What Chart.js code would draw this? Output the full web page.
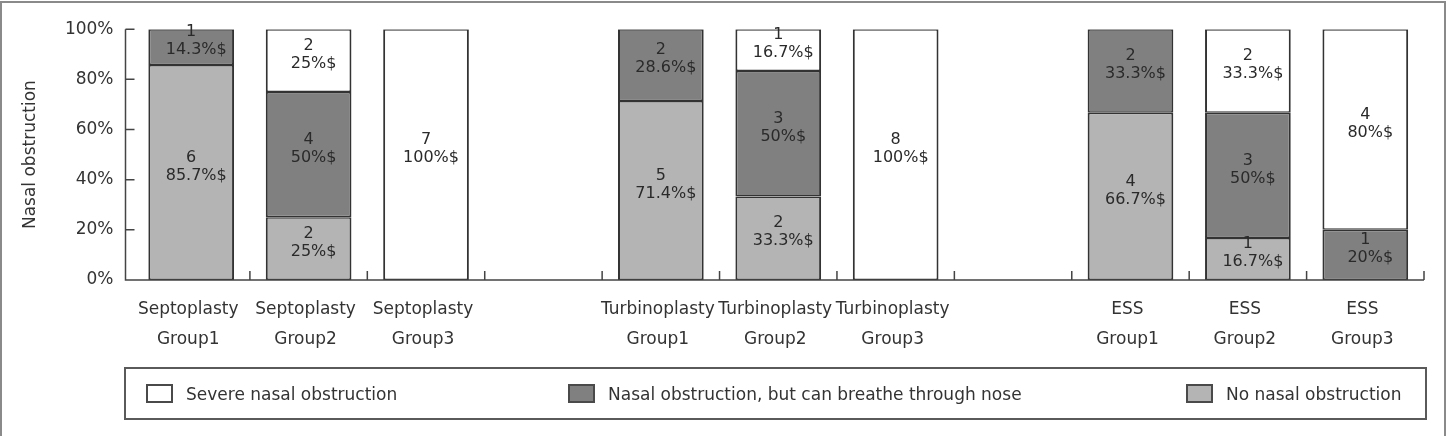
<!DOCTYPE html>
<html>
<head>
<meta charset="utf-8">
<script src="https://cdn.jsdelivr.net/npm/chart.js@4.4.1/dist/chart.umd.min.js"></script>
<style>
  body { margin: 0; background: #fff; }
  #wrap { position: relative; width: 1447px; height: 436px; overflow: hidden; }
  #frame { position: absolute; left: 0; top: 1px; width: 1442px; height: 500px; border: 2px solid #8a8a8a; pointer-events: none; }
  #legend { position: absolute; left: 124px; top: 367px; width: 1299px; height: 49px; border: 2px solid #5a5a5a;
            font-family: "DejaVu Sans", sans-serif; font-size: 17px; color: #333; }
  .item { position: absolute; top: 0; height: 49px; display: flex; align-items: center; }
  .sw { width: 23px; height: 15px; border: 2px solid #4a4a4a; margin-right: 13px; }
</style>
</head>
<body>
<div id="wrap">
  <canvas id="c" width="1447" height="436"></canvas>
  <div id="legend"></div>
  <div id="frame"></div>
</div>
<script>
// 카테고리 (빈 칸은 그룹 사이 간격)
var categories = [
  ["Septoplasty", "Group1"], ["Septoplasty", "Group2"], ["Septoplasty", "Group3"], "",
  ["Turbinoplasty", "Group1"], ["Turbinoplasty", "Group2"], ["Turbinoplasty", "Group3"], "",
  ["ESS", "Group1"], ["ESS", "Group2"], ["ESS", "Group3"]
];

// 비율(%) 값
var noObstPct  = [85.7, 25, null, null, 71.4, 33.3, null, null, 66.7, 16.7, null];
var midPct     = [14.3, 50, null, null, 28.6, 50, null, null, 33.3, 50, 20];
var severePct  = [null, 25, 100, null, null, 16.7, 100, null, null, 33.3, 80];

// 인원 수
var noObstN  = [6, 2, null, null, 5, 2, null, null, 4, 1, null];
var midN     = [1, 4, null, null, 2, 3, null, null, 2, 3, 1];
var severeN  = [null, 2, 7, null, null, 1, 8, null, null, 2, 4];

var yTicks = [0, 20, 40, 60, 80, 100];

var seriesNames = ["Severe nasal obstruction", "Nasal obstruction, but can breathe through nose", "No nasal obstruction"];
var seriesColors = ["#ffffff", "#808080", "#b4b4b4"];

var FONT = "'DejaVu Sans', sans-serif";
var TEXT = "#333";

// 축 선과 안쪽 눈금 그리기
var axisPlugin = {
  id: "axisLines",
  afterDatasetsDraw: function (chart) {
    var ctx = chart.ctx, a = chart.chartArea, x = chart.scales.x, y = chart.scales.y;
    var x0 = a.left - 7;
    var slot = x.width / categories.length;
    ctx.save();
    ctx.strokeStyle = "#444";
    ctx.lineWidth = 1.5;
    ctx.beginPath();
    ctx.moveTo(x0, a.top);
    ctx.lineTo(x0, a.bottom);
    ctx.lineTo(a.right, a.bottom);
    yTicks.forEach(function (v) {
      var py = y.getPixelForValue(v);
      ctx.moveTo(x0, py);
      ctx.lineTo(x0 + 9, py);
    });
    for (var i = 0; i < categories.length; i++) {
      var px = x.getPixelForValue(i) + slot / 2;
      ctx.moveTo(px, a.bottom);
      ctx.lineTo(px, a.bottom - 9);
    }
    ctx.stroke();
    ctx.restore();
  }
};

// 막대 안의 숫자 / 비율 라벨
var counts = [noObstN, midN, severeN];
var labelPlugin = {
  id: "barLabels",
  afterDatasetsDraw: function (chart) {
    var ctx = chart.ctx;
    ctx.save();
    ctx.font = "16px " + FONT;
    ctx.fillStyle = "#2a2a2a";
    ctx.textAlign = "center";
    ctx.textBaseline = "middle";
    chart.data.datasets.forEach(function (ds, di) {
      var meta = chart.getDatasetMeta(di);
      meta.data.forEach(function (bar, j) {
        var v = ds.data[j];
        if (v == null) return;
        var p = bar.getProps(["x", "y", "base"], true);
        var cy = (p.y + p.base) / 2 - 6;
        ctx.fillText(String(counts[di][j]), p.x, cy - 9);
        ctx.fillText(v + "%$", p.x + 5, cy + 9);
      });
    });
    ctx.restore();
  }
};

var ctx = document.getElementById("c").getContext("2d");
new Chart(ctx, {
  type: "bar",
  data: {
    labels: categories,
    datasets: [
      { label: seriesNames[2], data: noObstPct, backgroundColor: seriesColors[2] },
      { label: seriesNames[1], data: midPct, backgroundColor: seriesColors[1] },
      { label: seriesNames[0], data: severePct, backgroundColor: seriesColors[0] }
    ].map(function (d) {
      d.borderColor = "#333";
      d.borderWidth = { top: 1.5, bottom: 1.5, left: 2, right: 2 };
      d.borderSkipped = false;
      d.categoryPercentage = 1;
      d.barPercentage = 0.73;
      return d;
    })
  },
  options: {
    responsive: false,
    animation: false,
    layout: { padding: { left: 0, right: 23, top: 28, bottom: 0 } },
    plugins: { legend: { display: false }, tooltip: { enabled: false } },
    scales: {
      x: {
        stacked: true,
        grid: { display: false, drawTicks: false },
        border: { display: false },
        ticks: { color: TEXT, font: { family: FONT, size: 17, lineHeight: 1.8 }, padding: 14, labelOffset: -3, maxRotation: 0, autoSkip: false },
        afterFit: function (s) { s.height = 156; }
      },
      y: {
        stacked: true,
        min: 0, max: 100,
        afterBuildTicks: function (s) { s.ticks = yTicks.map(function (v) { return { value: v }; }); },
        grid: { display: false, drawTicks: false },
        border: { display: false },
        ticks: { color: TEXT, font: { family: FONT, size: 17 }, padding: 19, callback: function (v) { return v + "%"; } },
        title: { display: true, text: "Nasal obstruction", color: TEXT, font: { family: FONT, size: 17 }, padding: { top: 20, bottom: 0 } },
        afterFit: function (s) { s.width = 132.5; }
      }
    }
  },
  plugins: [axisPlugin, labelPlugin]
});

// 범례 (상자 안에 세 항목)
var legendPos = [20, 442, 1060];
var lg = document.getElementById("legend");
[0, 1, 2].forEach(function (k, i) {
  var it = document.createElement("div");
  it.className = "item";
  it.style.left = legendPos[i] + "px";
  var sw = document.createElement("div");
  sw.className = "sw";
  sw.style.background = seriesColors[k];
  var tx = document.createElement("span");
  tx.textContent = seriesNames[k];
  it.appendChild(sw);
  it.appendChild(tx);
  lg.appendChild(it);
});
</script>
</body>
</html>
